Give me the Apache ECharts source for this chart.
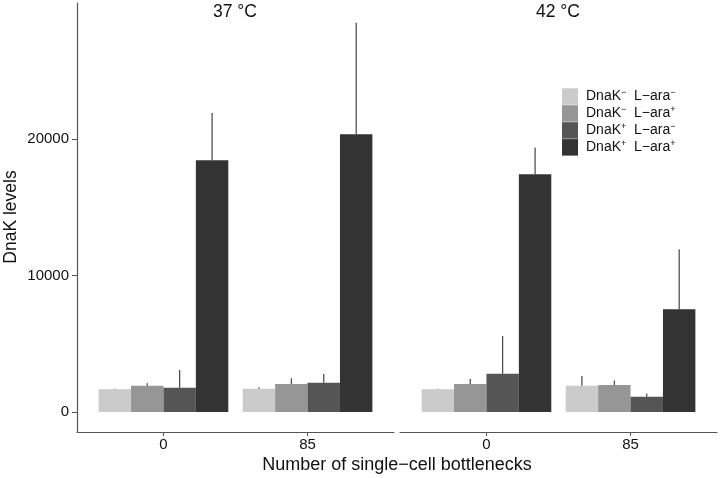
<!DOCTYPE html>
<html>
<head>
<meta charset="utf-8">
<script src="https://cdn.jsdelivr.net/npm/echarts@6/dist/echarts.min.js"></script>
<style>html,body{margin:0;padding:0;background:#fff;}#c{width:720px;height:478px;}</style>
</head>
<body>
<div id="c"></div>
<script>
// ---- data ----
var categories = ['0', '85'];
var panels = ['37 °C', '42 °C'];
var groupNames = ['DnaK- L-ara-', 'DnaK- L-ara+', 'DnaK+ L-ara-', 'DnaK+ L-ara+'];
var groupSigns = [['−', '−'], ['−', '+'], ['+', '−'], ['+', '+']];
var groupColors = ['#cbcbcb', '#969696', '#555555', '#333333'];
// values per panel: [group][category]
var means37 = [
  [1660, 1710],
  [1930, 2050],
  [1780, 2150],
  [18440, 20340]
];
var errTop37 = [
  [1700, 1810],
  [2100, 2470],
  [3080, 2780],
  [21900, 28520]
];
var means42 = [
  [1660, 1930],
  [2050, 1980],
  [2810, 1120],
  [17410, 7520]
];
var errTop42 = [
  [1700, 2640],
  [2420, 2300],
  [5570, 1340],
  [19370, 11920]
];
var yTicks = [0, 10000, 20000];

// ---- layout ----
var dodge = 0.9, nG = 4, bw = dodge / nG;
var yMin = -1465, yMax = 29960;

function makeRender(k, color) {
  return function (params, api) {
    var cat = api.value(0), val = api.value(1), top = api.value(2);
    var cx = cat - dodge / 2 + bw * (k + 0.5);
    var p0 = api.coord([cx - bw / 2, 0]);
    var p1 = api.coord([cx + bw / 2, val]);
    var pe = api.coord([cx, top]);
    var children = [{
      type: 'rect',
      shape: { x: p0[0], y: p1[1], width: p1[0] - p0[0], height: p0[1] - p1[1] },
      style: { fill: color }
    }];
    if (top > val) {
      children.push({
        type: 'line',
        shape: { x1: pe[0], y1: p1[1], x2: pe[0], y2: pe[1] },
        style: { stroke: '#333333', lineWidth: 1.1 }
      });
    }
    return { type: 'group', children: children };
  };
}

var series = [];
[[means37, errTop37], [means42, errTop42]].forEach(function (pd, pi) {
  for (var k = 0; k < nG; k++) {
    var data = categories.map(function (c, ci) { return [ci, pd[0][k][ci], pd[1][k][ci]]; });
    series.push({
      type: 'custom', name: groupNames[k], xAxisIndex: pi, yAxisIndex: pi,
      itemStyle: { color: groupColors[k] },
      renderItem: makeRender(k, groupColors[k]),
      encode: { x: 0, y: [1, 2] },
      data: data, silent: true, animation: false
    });
  }
});

var font = 'Liberation Sans, Arial, Helvetica, sans-serif';
function xAxis(gi) {
  return {
    type: 'value', gridIndex: gi, min: -0.6, max: 1.6,
    axisLine: { show: true, onZero: false, lineStyle: { color: '#555', width: 1.2 } },
    axisTick: { show: true, length: 4, customValues: [0, 1], lineStyle: { color: '#555' } },
    axisLabel: { customValues: [0, 1], margin: 5, color: '#111', fontSize: 15, fontFamily: font,
      formatter: function (v) { return categories[Math.round(v)]; } },
    splitLine: { show: false }
  };
}
function yAxis(gi, show) {
  return {
    type: 'value', gridIndex: gi, min: yMin, max: yMax, show: show,
    axisLine: { show: true, onZero: false, lineStyle: { color: '#555', width: 1.2 } },
    axisTick: { show: true, length: 5, customValues: yTicks, lineStyle: { color: '#555' } },
    axisLabel: { customValues: yTicks, margin: 8, color: '#111', fontSize: 15, fontFamily: font,
      formatter: function (v) { return String(v); } },
    splitLine: { show: false }
  };
}

var legendRich = {
  p: { fontSize: 14, width: 3, lineHeight: 17 },
  b: { fontSize: 14, fontFamily: font, color: '#111', lineHeight: 17 },
  s: { fontSize: 9, fontFamily: font, color: '#111', lineHeight: 9, verticalAlign: 'top' }
};

var option = {
  backgroundColor: '#fff',
  animation: false,
  grid: [
    { left: 77, top: 3, width: 317, height: 429 },
    { left: 400, top: 3, width: 317, height: 429 }
  ],
  xAxis: [xAxis(0), xAxis(1)],
  yAxis: [yAxis(0, true), yAxis(1, false)],
  legend: {
    orient: 'vertical', left: 562, top: 88, padding: 0, itemWidth: 16, itemHeight: 16.5, itemGap: 0.2,
    icon: 'rect', selectedMode: false,
    data: groupNames,
    formatter: function (name) {
      var s = groupSigns[groupNames.indexOf(name)];
      return '{p| }{b|DnaK}{s|' + s[0] + '}{b|  L−ara}{s|' + s[1] + '}';
    },
    textStyle: { rich: legendRich }
  },
  graphic: [
    { type: 'text', x: 235, y: 12, style: { text: panels[0], fontSize: 17.5, fontFamily: font, fill: '#111', align: 'center', verticalAlign: 'middle' } },
    { type: 'text', x: 558, y: 12, style: { text: panels[1], fontSize: 17.5, fontFamily: font, fill: '#111', align: 'center', verticalAlign: 'middle' } },
    { type: 'text', x: 11, y: 217, rotation: Math.PI / 2, style: { text: 'DnaK levels', fontSize: 17.5, fontFamily: font, fill: '#111', align: 'center', verticalAlign: 'middle' } },
    { type: 'text', x: 397, y: 465, style: { text: 'Number of single−cell bottlenecks', fontSize: 18, fontFamily: font, fill: '#111', align: 'center', verticalAlign: 'middle' } }
  ],
  series: series
};
var chart = echarts.init(document.getElementById('c'), null, { renderer: 'canvas' });
chart.setOption(option);
</script>
</body>
</html>
